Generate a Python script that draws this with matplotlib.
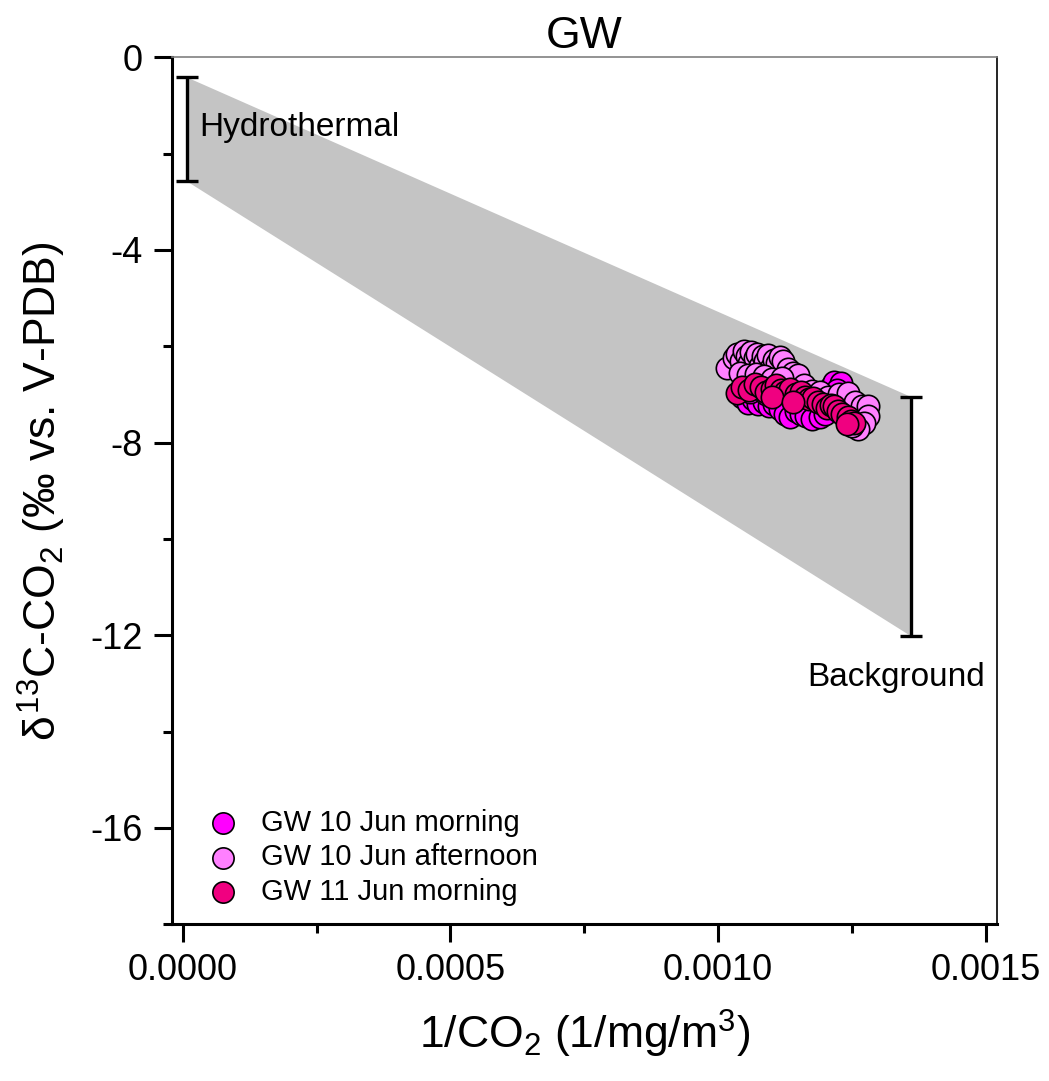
import numpy as np
import matplotlib
matplotlib.use("Agg")
import matplotlib.pyplot as plt
from matplotlib.ticker import MultipleLocator, FixedLocator

plt.rcParams["font.family"] = ["Liberation Sans", "DejaVu Sans"]
plt.rcParams["mathtext.fontset"] = "custom"
plt.rcParams["mathtext.rm"] = "Liberation Sans"
plt.rcParams["mathtext.it"] = "Liberation Sans"

# end-member ranges (x position, top, bottom)
hydro = (0.0000075, -0.41, -2.57)
backgr = (0.001361, -7.05, -12.02)

# GW 10 Jun morning
morn10_x = [1.045, 1.055, 1.065, 1.075, 1.085, 1.095, 1.105, 1.115, 1.125, 1.135,
            1.145, 1.155, 1.165, 1.175, 1.191, 1.200, 1.210, 1.216, 1.229, 1.222,
            1.235, 1.060, 1.090]
morn10_y = [-7.05, -7.17, -7.10, -7.20, -7.15, -7.25, -7.20, -7.30, -7.40, -7.46,
            -7.35, -7.40, -7.45, -7.50, -7.46, -7.40, -6.85, -6.74, -6.76, -6.90,
            -7.30, -6.95, -7.00]

# GW 10 Jun afternoon
aft10_x = [1.017, 1.030, 1.036, 1.042, 1.048, 1.053, 1.058, 1.062, 1.068, 1.073,
           1.078, 1.083, 1.088, 1.093, 1.098, 1.104, 1.110, 1.116, 1.122, 1.130,
           1.140, 1.150, 1.040, 1.055, 1.070, 1.085, 1.100, 1.120, 1.160, 1.175,
           1.190, 1.205, 1.225, 1.242, 1.255, 1.268, 1.279, 1.280, 1.272, 1.262,
           1.250]
aft10_y = [-6.45, -6.25, -6.15, -6.30, -6.10, -6.20, -6.35, -6.12, -6.25, -6.15,
           -6.40, -6.20, -6.30, -6.18, -6.45, -6.28, -6.35, -6.22, -6.30, -6.48,
           -6.55, -6.60, -6.55, -6.60, -6.58, -6.62, -6.68, -6.65, -6.80, -6.92,
           -6.95, -7.05, -7.00, -6.98, -7.15, -7.25, -7.25, -7.45, -7.60, -7.72,
           -7.65]

# GW 11 Jun morning
morn11_x = [1.036, 1.045, 1.058, 1.068, 1.080, 1.090, 1.100, 1.108, 1.117, 1.125,
            1.135, 1.145, 1.154, 1.162, 1.170, 1.178, 1.186, 1.195, 1.203, 1.210,
            1.216, 1.224, 1.232, 1.242, 1.248, 1.253, 1.240, 1.100, 1.140]
morn11_y = [-6.96, -6.85, -6.90, -6.78, -6.84, -6.95, -6.88, -6.80, -6.90, -6.95,
            -6.88, -7.00, -6.94, -7.05, -7.10, -7.08, -7.15, -7.20, -7.28, -7.22,
            -7.25, -7.35, -7.40, -7.46, -7.55, -7.59, -7.62, -7.05, -7.15]

series = [
    ("GW 10 Jun morning", morn10_x, morn10_y, "#FF00FF"),
    ("GW 10 Jun afternoon", aft10_x, aft10_y, "#FF80FF"),
    ("GW 11 Jun morning", morn11_x, morn11_y, "#F00080"),
]

fig = plt.figure(figsize=(10.49, 10.81), dpi=100)
ax = fig.add_axes([0.164, 0.145, 0.786, 0.802])

# mixing envelope between the two end-members
ax.fill_between([hydro[0], backgr[0]], [hydro[1], backgr[1]], [hydro[2], backgr[2]],
                color="#C4C4C4", lw=0, zorder=1)
for xe, top, bot in (hydro, backgr):
    ax.errorbar([xe], [(top + bot) / 2], yerr=[(top - bot) / 2], fmt="none",
                ecolor="black", elinewidth=2.4, capsize=8, capthick=2.4, zorder=2)

for lbl, xs, ys, c in series:
    ax.scatter(np.array(xs) * 1e-3, ys, s=260, c=c, edgecolors="black",
               linewidths=1.2, label=lbl, zorder=3)

ax.text(0.00003, -1.45, "Hydrothermal", fontsize=24, va="center", ha="left")
ax.text(0.001333, -12.87, "Background", fontsize=24, va="center", ha="center")

ax.set_xlim(-0.00002, 0.00152)
ax.set_ylim(-18, 0)
ax.xaxis.set_major_locator(FixedLocator([0, 0.0005, 0.001, 0.0015]))
ax.set_xticklabels(["0.0000", "0.0005", "0.0010", "0.0015"])
ax.xaxis.set_minor_locator(MultipleLocator(0.00025))
ax.yaxis.set_major_locator(FixedLocator([0, -4, -8, -12, -16]))
ax.set_yticklabels(["0", "-4", "-8", "-12", "-16"])
ax.yaxis.set_minor_locator(MultipleLocator(2))

ax.tick_params(which="major", direction="out", length=13, width=2.2, labelsize=26, pad=8)
ax.tick_params(which="minor", direction="out", length=6.5, width=2.2)
ax.tick_params(top=False, right=False, which="both")
for side in ("left", "bottom"):
    ax.spines[side].set_linewidth(2.2)
ax.spines["right"].set_linewidth(1.2)
ax.spines["top"].set_linewidth(1.2)
ax.spines["top"].set_color("#808080")

ax.set_xlabel(r"1/CO$_2$ (1/mg/m$^3$)", fontsize=32, labelpad=14)
ax.set_ylabel(r"$\delta^{13}$C-CO$_2$ (‰ vs. V-PDB)", fontsize=32, labelpad=16)
ax.set_title("GW", fontsize=32, pad=6)

ax.legend(loc="lower left", frameon=False, fontsize=21, handletextpad=0.3,
          labelspacing=0.22, borderaxespad=0.0, bbox_to_anchor=(0.012, 0.008),
          markerscale=0.95)

fig.savefig("out.png", dpi=100)
